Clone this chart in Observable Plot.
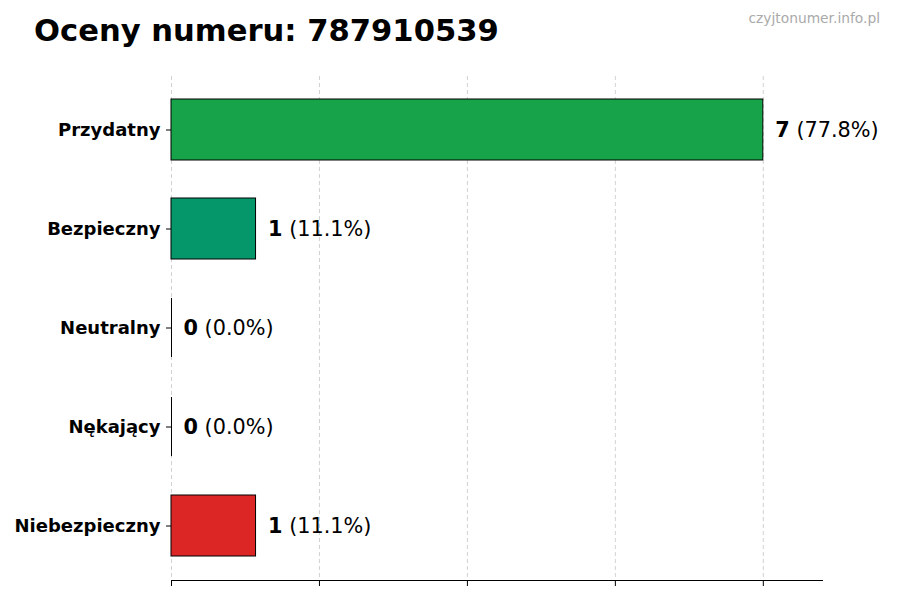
<!DOCTYPE html>
<html><head><meta charset="utf-8">
<script src="https://cdn.jsdelivr.net/npm/d3@7"></script>
<script src="https://cdn.jsdelivr.net/npm/@observablehq/plot@0.6"></script>
<style>
body{margin:0;background:#fff;font-family:"DejaVu Sans",sans-serif;}
#wrap{position:relative;width:900px;height:600px;}
#title{position:absolute;left:34px;top:13px;font-size:30.6px;font-weight:bold;color:#000;line-height:1.2;}
#wm{position:absolute;right:20px;top:10px;font-size:13.8px;color:#aaa;line-height:1.2;}
</style></head><body>
<div id="wrap"><div id="chart"></div><div id="title">Oceny numeru: 787910539</div><div id="wm">czyjtonumer.info.pl</div></div>
<script>
const categories = ["Przydatny","Bezpieczny","Neutralny","Nękający","Niebezpieczny"];
const counts = [7,1,0,0,1];
const percents = [77.8,11.1,0.0,0.0,11.1];
const colors = ["#16a34a","#059669","#9ca3af","#f97316","#dc2626"];
const xTicks = [0,1.75,3.5,5.25,7];
const xMax = 7.7;

const data = categories.map((c,i)=>({label:c,count:counts[i],pct:percents[i],color:colors[i]}));

const chart = Plot.plot({
  width:900, height:600,
  marginLeft:171, marginRight:78, marginTop:76, marginBottom:20,
  style:{fontFamily:"'DejaVu Sans', sans-serif", background:"white", color:"#000"},
  x:{domain:[0,xMax]},
  y:{domain:categories, paddingInner:0.4, paddingOuter:0.23, label:null},
  marks:[
    Plot.gridX(xTicks,{stroke:"#b8b8b8", strokeOpacity:0.8, strokeDasharray:"4,3", strokeWidth:0.8}),
    Plot.barX(data,{x:"count", y:"label", fill:"color", stroke:"#000", strokeWidth:1, insetTop:-1, insetBottom:-1}),
    Plot.tickX(data,{filter:d=>d.count===0, x:"count", y:"label", stroke:"#000", strokeWidth:1}),
    Plot.frame({anchor:"bottom", stroke:"#000"}),
    Plot.axisX({ticks:xTicks, tickFormat:()=>"", tickSize:6, label:null}),
    Plot.axisY({tickSize:5, tickPadding:6, fontSize:18, fontWeight:"bold", label:null}),
    Plot.text(data,{
      x:"count", y:"label", text:d=>String(d.count), dx:12, textAnchor:"start",
      fontSize:20.8, fontWeight:"bold", fill:"#000",
      render:(index, scales, values, dimensions, context, next)=>{
        const g = next(index, scales, values, dimensions, context);
        d3.select(g).selectAll("text").each(function(_, i){
          const d = data[index[i]];
          d3.select(this).append("tspan").attr("font-weight","normal").text(" (" + d.pct.toFixed(1) + "%)");
        });
        return g;
      }
    })
  ]
});
document.getElementById("chart").appendChild(chart);
</script>
</body></html>
